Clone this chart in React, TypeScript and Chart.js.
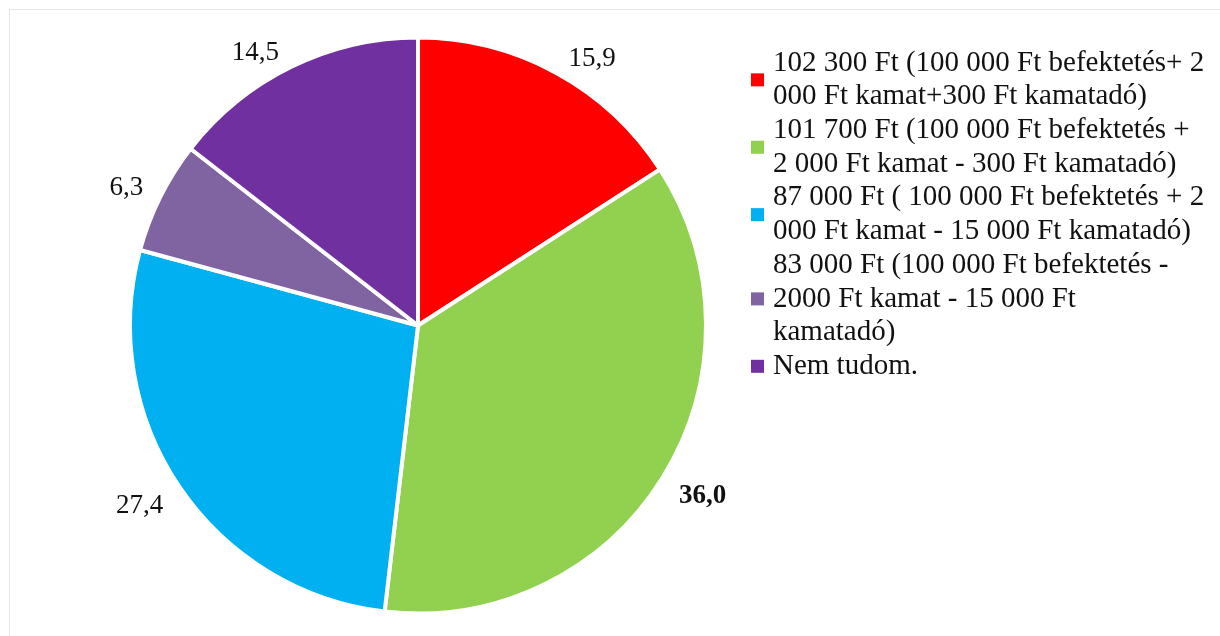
import React, { useEffect, useRef } from "react";
import { Chart, registerables } from "chart.js";

Chart.register(...registerables);

const categories = [
  "102 300 Ft (100 000 Ft befektetés+ 2 000 Ft kamat+300 Ft kamatadó)",
  "101 700 Ft (100 000 Ft befektetés + 2 000 Ft kamat - 300 Ft kamatadó)",
  "87 000 Ft ( 100 000 Ft befektetés + 2 000 Ft kamat - 15 000 Ft kamatadó)",
  "83 000 Ft (100 000 Ft befektetés - 2000 Ft kamat - 15 000 Ft kamatadó)",
  "Nem tudom.",
];

const legendLines: string[][] = [
  ["102 300 Ft (100 000 Ft befektetés+ 2", "000 Ft kamat+300 Ft kamatadó)"],
  ["101 700 Ft (100 000 Ft befektetés +", "2 000 Ft kamat - 300 Ft kamatadó)"],
  ["87 000 Ft ( 100 000 Ft befektetés + 2", "000 Ft kamat - 15 000 Ft kamatadó)"],
  ["83 000 Ft (100 000 Ft befektetés -", "2000 Ft kamat - 15 000 Ft", "kamatadó)"],
  ["Nem tudom."],
];

const values = [15.9, 36.0, 27.4, 6.3, 14.5];

const colors = ["#FF0000", "#92D050", "#00B0F0", "#8064A2", "#7030A0"];

const FONT = '"Liberation Serif", "Times New Roman", serif';

const labelsPlugin = {
  id: "customLabels",
  afterDraw(chart: any) {
    const ctx = chart.ctx;
    const meta = chart.getDatasetMeta(0);
    const maxVal = Math.max(...values);
    ctx.save();
    ctx.textAlign = "center";
    ctx.textBaseline = "middle";
    ctx.fillStyle = "#111";
    meta.data.forEach((arc: any, i: number) => {
      const p = arc.getProps(["x", "y", "startAngle", "endAngle", "outerRadius"], true);
      const mid = (p.startAngle + p.endAngle) / 2;
      const r = p.outerRadius + 10;
      const cx = Math.cos(mid);
      const cy = Math.sin(mid);
      ctx.font = (values[i] === maxVal ? "bold " : "") + "27px " + FONT;
      const txt = values[i].toFixed(1).replace(".", ",");
      const w = ctx.measureText(txt).width;
      const x = p.x + cx * r + Math.sign(cx) * (w / 2 + 8);
      const y = p.y + cy * r + Math.sign(cy) * 9 + 4;
      ctx.fillText(txt, x, y);
    });
    // legend
    const boxX = 741;
    const textX = 763;
    const lineH = 33.7;
    let y = 53;
    ctx.textAlign = "left";
    ctx.font = "29px " + FONT;
    legendLines.forEach((lines, i) => {
      const n = lines.length;
      const midY = y + ((n - 1) * lineH) / 2;
      ctx.fillStyle = colors[i];
      ctx.fillRect(boxX, midY - 6.5, 13, 13);
      ctx.fillStyle = "#111";
      lines.forEach((ln, k) => {
        ctx.fillText(ln, textX, y + k * lineH);
      });
      y += n * lineH;
    });
    ctx.restore();
  },
};

export default function App() {
  const ref = useRef<HTMLCanvasElement>(null);
  useEffect(() => {
    if (!ref.current) return;
    const chart = new Chart(ref.current, {
      type: "pie",
      data: {
        labels: categories,
        datasets: [
          {
            data: values,
            backgroundColor: colors,
            borderColor: "#FFFFFF",
            borderWidth: 4,
          },
        ],
      },
      options: {
        responsive: false,
        animation: false,
        layout: { padding: { top: 25.5, left: 118, bottom: 20.5, right: 512 } },
        plugins: {
          legend: { display: false },
          tooltip: { enabled: false },
        },
      },
      plugins: [labelsPlugin],
    });
    return () => chart.destroy();
  }, []);
  return (
    <div
      style={{
        position: "fixed",
        left: 9,
        top: 9,
        width: 1211,
        height: 627,
        borderTop: "1px solid #E4E4E4",
        borderLeft: "1px solid #E4E4E4",
        background: "#fff",
      }}
    >
      <canvas ref={ref} width={1210} height={626} style={{ display: "block" }} />
    </div>
  );
}
